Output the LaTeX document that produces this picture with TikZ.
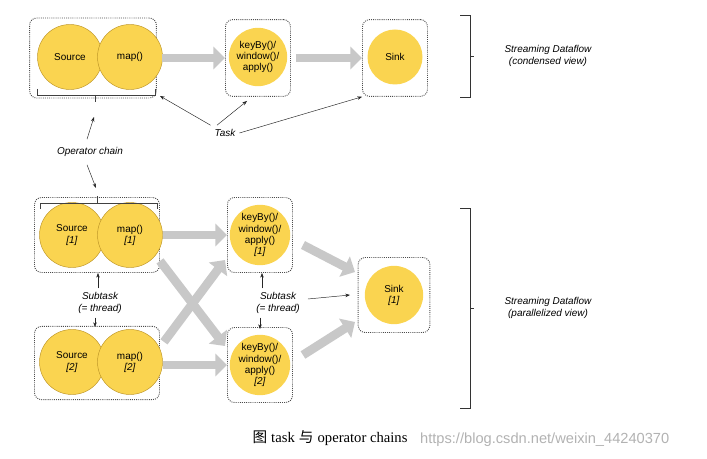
\documentclass[tikz,border=0pt]{standalone}
\usepackage{fontspec}
\setmainfont{Liberation Sans}
\newfontfamily\serifcap{Liberation Serif}
\newfontfamily\cjk{Noto Sans CJK SC}
\usepackage{tikz}
\usetikzlibrary{arrows.meta}
\definecolor{opyellow}{RGB}{250,212,80}
\definecolor{opedge}{RGB}{190,150,40}
\definecolor{flowgray}{RGB}{200,200,200}

\begin{document}
\begin{tikzpicture}[x=0.03cm, y=-0.03cm, font=\fontsize{8.5}{9.5}\selectfont]
    % Define styles
    \tikzstyle{op} = [circle, minimum size=1.95cm, inner sep=0pt, align=center, draw=opedge, fill=opyellow]
    \tikzstyle{smallop} = [circle, minimum size=1.75cm, inner sep=0pt, align=center, fill=opyellow]
    \tikzstyle{task} = [rectangle, rounded corners=6pt, draw=black!70, densely dotted, thick]
    \tikzstyle{flow} = [draw=flowgray, line width=7.5pt, -{Triangle[length=10pt, width=19pt]}]
    \tikzstyle{note} = [font=\fontsize{8.5}{10}\selectfont\itshape, align=center]
    \tikzstyle{pointer} = [->, >={Stealth[length=4pt]}, black!85]

    \useasboundingbox (0,0) rectangle (707,459);

    % Condensed view
    \node [task, minimum width=3.8cm, minimum height=2.4cm] (chain_box) at (93,58) {};
    \node [op] (source) at (70,57) {Source};
    \node [op] (map) at (130,57) {map()};
    \node [task, minimum width=1.95cm, minimum height=2.3cm] (window_box) at (258,58) {};
    \node [smallop] (window) at (258,57) {keyBy()/\\window()/\\apply()};
    \node [task, minimum width=1.95cm, minimum height=2.3cm] (sink_box) at (395,58) {};
    \node [smallop, minimum size=1.65cm] (sink) at (395,57) {Sink};

    \draw [flow] (chain_box.east) ++(5,0) coordinate (f1) -- (window_box.west);
    \draw [flow] (window_box.east) ++(5,0) coordinate (f2) -- (sink_box.west);

    \draw [thick, black!75] (37,89) -- (37,95) -- (155,95) -- (155,89);
    \draw [thick, black!75] (95,95) -- (95,102);

    \draw [thick, black!80] (460,15) -- (470,15) -- (470,97) -- (460,97);
    \draw [thick, black!80] (470,56) -- (474,56);
    \node [note] (condensed) at (548,56) {Streaming Dataflow\\(condensed view)};

    \node [note] (task_label) at (225,133) {Task};
    \draw [pointer] (task_label.north west) -- (160,96);
    \draw [pointer] (task_label.north) ++(-8,0) -- (247,101);
    \draw [pointer] (task_label.east) -- (sink_box.south west);

    \node [note] (chain_label) at (90,152) {Operator chain};
    \draw [pointer] (chain_label.north) ++(-3,-4) -- (94,117);
    \draw [pointer] (chain_label.south) ++(-3,4) -- (96,188);

    % Parallelized view
    \node [task, minimum width=3.75cm, minimum height=2.25cm] (chain_one) at (97,235) {};
    \node [op] (source_one) at (72,235) {Source\\\textit{[1]}};
    \node [op] (map_one) at (130,235) {map()\\\textit{[1]}};
    \node [task, minimum width=3.75cm, minimum height=2.2cm] (chain_two) at (97,363) {};
    \node [op] (source_two) at (72,362) {Source\\\textit{[2]}};
    \node [op] (map_two) at (130,362) {map()\\\textit{[2]}};
    \draw [thick, black!75] (40,209) -- (40,203) -- (157,203) -- (157,209);
    \draw [thick, black!75] (97,203) -- (97,196);

    \node [task, minimum width=1.95cm, minimum height=2.25cm] (window_one_box) at (260,235) {};
    \node [smallop] (window_one) at (260,235) {keyBy()/\\window()/\\apply()\\\textit{[1]}};
    \node [task, minimum width=1.95cm, minimum height=2.25cm] (window_two_box) at (260,365) {};
    \node [smallop] (window_two) at (260,365) {keyBy()/\\window()/\\apply()\\\textit{[2]}};
    \node [task, minimum width=2.15cm, minimum height=2.25cm] (sink_one_box) at (394,295) {};
    \node [smallop] (sink_one) at (394,295) {Sink\\\textit{[1]}};

    \draw [flow] (163,235) -- (window_one_box.west);
    \draw [flow] (163,365) -- (window_two_box.west);
    \draw [flow] (chain_one.south east) ++(0,-12) -- (225,346);
    \draw [flow] (chain_two.north east) ++(4,16) -- (225,260);
    \draw [flow] (window_one_box.east) ++(10,10) -- (355,272);
    \draw [flow] (window_two_box.east) ++(10,-10) -- (355,322);

    \node [note] (subtask_left) at (100,303) {Subtask\\(= thread)};
    \draw [pointer] (subtask_left.north) ++(-2,0) -- (chain_one.south -| 98,0);
    \draw [pointer] (subtask_left.south) ++(-5,0) -- (95,327);
    \node [note] (subtask_mid) at (278,303) {Subtask\\(= thread)};
    \draw [pointer] (subtask_mid.north) ++(-16,0) -- (window_one_box.south -| 262,0);
    \draw [pointer] (subtask_mid.south) ++(-18,0) -- (260,329);
    \draw [pointer] (subtask_mid.east) ++(4,-4) -- (350,295);

    \draw [thick, black!80] (460,208) -- (470,208) -- (470,408) -- (460,408);
    \draw [thick, black!80] (470,308) -- (474,308);
    \node [note] (parallel) at (548,308) {Streaming Dataflow\\(parallelized view)};

    % Caption
    \node [font=\fontsize{12.5}{14}\selectfont] (caption) at (330,438) {{\cjk 图}\ {\serifcap task} {\cjk 与} {\serifcap operator chains}};
    \node [anchor=west, text=black!30, font=\fontsize{12.5}{14}\selectfont] (mark) at (416,440) {https://blog.csdn.net/weixin\_44240370};
\end{tikzpicture}
\end{document}
